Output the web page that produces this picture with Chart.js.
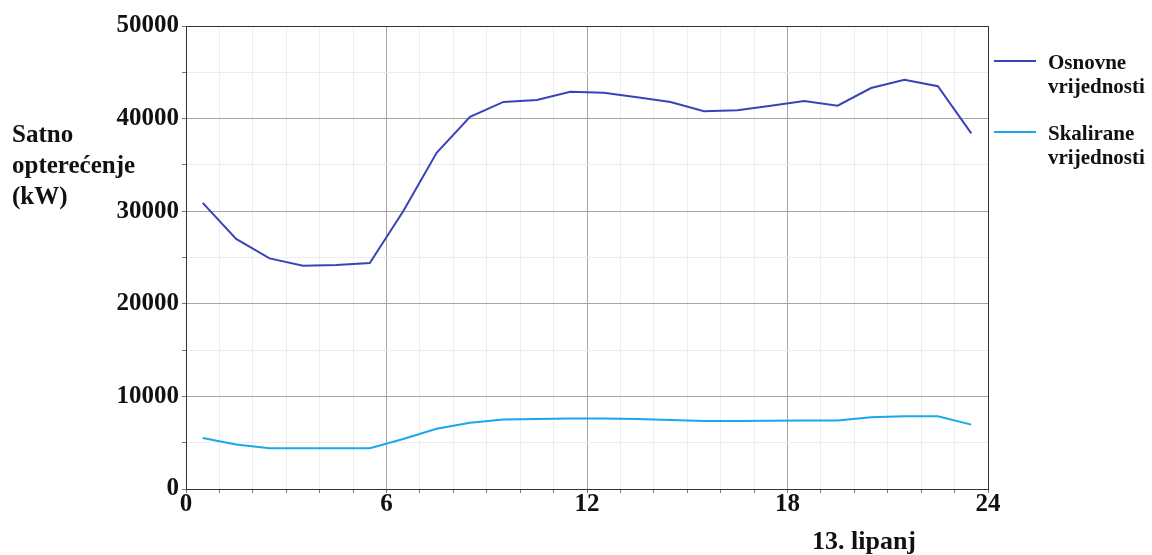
<!DOCTYPE html>
<html>
<head>
<meta charset="utf-8">
<script src="https://cdn.jsdelivr.net/npm/chart.js@4"></script>
<style>
  body { margin: 0; background: #fff; }
  #wrap { position: relative; width: 1152px; height: 555px; }
  canvas { position: absolute; left: 0; top: 0; }
  .txt { position: absolute; font-family: "Liberation Serif", "Times New Roman", serif; font-weight: bold; color: #111; white-space: nowrap; }
  .ytitle { left: 12px; top: 118px; font-size: 25px; line-height: 31px; }
  .xtitle { left: 812px; top: 526px; font-size: 26px; line-height: 30px; }
  .leg { left: 1048px; font-size: 21px; line-height: 24px; }
  .swatch { position: absolute; left: 994px; width: 42px; height: 2px; }
</style>
</head>
<body>
<div id="wrap">
  <canvas id="chart" width="1152" height="555"></canvas>
  <div class="txt ytitle">Satno<br>opterećenje<br>(kW)</div>
  <div class="txt xtitle">13. lipanj</div>
  <div class="swatch" style="top:60px;background:#3a43b5"></div>
  <div class="txt leg" style="top:50px">Osnovne<br>vrijednosti</div>
  <div class="swatch" style="top:131px;background:#1ba8ea"></div>
  <div class="txt leg" style="top:121px">Skalirane<br>vrijednosti</div>
</div>
<script>
// hour of day (mid-hour samples)
const hours = [0.5, 1.5, 2.5, 3.5, 4.5, 5.5, 6.5, 7.5, 8.5, 9.5, 10.5, 11.5,
               12.5, 13.5, 14.5, 15.5, 16.5, 17.5, 18.5, 19.5, 20.5, 21.5, 22.5, 23.5];

// Osnovne vrijednosti (kW)
const osnovne = [30900, 27000, 24900, 24100, 24200, 24400, 30000, 36300, 40200, 41800, 42000, 42900,
                 42800, 42300, 41800, 40800, 40900, 41400, 41900, 41400, 43300, 44200, 43500, 38400];

// Skalirane vrijednosti (kW)
const skalirane = [5500, 4800, 4400, 4400, 4400, 4400, 5400, 6500, 7150, 7500, 7550, 7600,
                   7600, 7550, 7450, 7350, 7350, 7380, 7400, 7400, 7750, 7850, 7850, 6950];

const xMajorTicks = [0, 6, 12, 18, 24];
const yMajorTicks = [0, 10000, 20000, 30000, 40000, 50000];

const tickFont = { family: "'Liberation Serif', 'Times New Roman', serif", size: 25, weight: "bold" };

const frame = {
  id: "frame",
  beforeDatasetsDraw(chart) {
    const a = chart.chartArea;
    const c = chart.ctx;
    c.save();
    c.strokeStyle = "#333";
    c.lineWidth = 1;
    c.strokeRect(Math.round(a.left) + 0.5, Math.round(a.top) + 0.5, Math.round(a.right - a.left), Math.round(a.bottom - a.top));
    c.restore();
  }
};

new Chart(document.getElementById("chart").getContext("2d"), {
  type: "line",
  data: {
    datasets: [
      {
        label: "Osnovne vrijednosti",
        data: hours.map((h, i) => ({ x: h, y: osnovne[i] })),
        borderColor: "#3a43b5",
        borderWidth: 2,
        pointRadius: 0,
        tension: 0
      },
      {
        label: "Skalirane vrijednosti",
        data: hours.map((h, i) => ({ x: h, y: skalirane[i] })),
        borderColor: "#1ba8ea",
        borderWidth: 2,
        pointRadius: 0,
        tension: 0
      }
    ]
  },
  options: {
    responsive: false,
    animation: false,
    layout: { padding: { left: 0, right: 164, top: 26, bottom: 0 } },
    plugins: { legend: { display: false }, tooltip: { enabled: false } },
    scales: {
      x: {
        type: "linear",
        min: 0,
        max: 24,
        afterFit: s => { s.height = 66; },
        ticks: {
          stepSize: 1,
          autoSkip: false,
          maxRotation: 0,
          padding: -3,
          color: "#111",
          font: tickFont,
          callback: v => xMajorTicks.includes(v) ? String(v) : ""
        },
        grid: {
          color: c => xMajorTicks.includes(c.tick.value) ? "#a5a5a5" : "#ededed",
          tickColor: "#777",
          tickLength: 4
        },
        border: { display: false }
      },
      y: {
        min: 0,
        max: 50000,
        afterFit: s => { s.width = 186; },
        ticks: {
          stepSize: 5000,
          padding: 3,
          color: "#111",
          font: tickFont,
          callback: v => yMajorTicks.includes(v) ? String(v) : ""
        },
        grid: {
          color: c => yMajorTicks.includes(c.tick.value) ? "#a5a5a5" : "#ededed",
          tickColor: "#777",
          tickLength: 4
        },
        border: { display: false }
      }
    }
  },
  plugins: [frame]
});
</script>
</body>
</html>
